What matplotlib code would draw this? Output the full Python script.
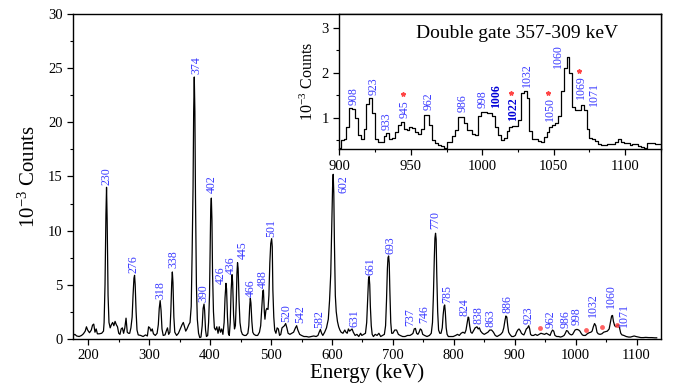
import matplotlib
matplotlib.use("Agg")
import matplotlib.pyplot as plt
from matplotlib.ticker import MultipleLocator

plt.rcParams['font.family'] = ['Liberation Serif', 'DejaVu Serif']
plt.rcParams['mathtext.fontset'] = 'custom'
plt.rcParams['mathtext.rm'] = 'Liberation Serif'
plt.rcParams['mathtext.it'] = 'Liberation Serif:italic'

# ---- full gamma-ray spectrum (keV, 10^-3 counts) ----
energy = [
    175, 178, 181, 185, 189, 192, 195, 197, 199, 202, 205, 207, 209, 211, 213, 215, 218, 222, 225,
    226, 227.5, 229, 230, 231, 232.5, 234,
    236, 238, 240, 242, 244, 246, 248, 250, 252, 254, 256, 258, 260, 262, 264, 266, 268, 270,
    272, 273.5, 275, 276, 277, 278.5, 280,
    282, 286, 290, 294, 297, 299, 301, 303, 305, 307, 310, 313,
    315, 316.5, 318, 319.5, 321,
    323, 326, 328, 330, 332, 334,
    335.5, 337, 338, 339, 340.5, 342,
    345, 348, 351, 354, 356, 358, 360, 362, 365, 367,
    369, 370.5, 372, 373, 374, 375, 376, 377.5, 379, 381, 383, 385,
    387, 388.5, 390, 391, 392.5, 394, 396,
    397.5, 399, 400, 401, 402, 403, 404, 405.5, 407,
    409, 411, 413, 415, 417, 419, 421,
    423, 424.5, 426, 427, 428.5, 430, 431.5,
    433, 434.5, 436, 437, 438.5, 440, 441.5,
    443, 444, 445, 446, 447.5, 449, 451, 453,
    456, 459, 462,
    463.5, 465, 466, 467, 468.5, 470, 472,
    475, 478, 481,
    483, 485, 486.5, 487.5, 489, 490, 491.5, 493, 495, 496.5,
    498, 499.5, 501, 502, 503, 504.5, 506,
    508, 510, 512, 514, 516, 518, 520, 522, 524, 526, 528, 531, 534, 537, 540, 542, 544, 547,
    550, 554, 558, 562, 566, 570, 574, 577, 579, 581, 583, 585, 588, 591, 594, 596,
    598, 599.5, 601, 602, 603, 604, 605.5, 607, 609, 611, 613, 615,
    618, 621, 623, 625, 627, 629, 631, 633, 635, 638, 641, 644, 647, 649,
    655, 657, 658.5, 660, 661, 662, 663, 664.5, 666,
    668, 671, 674, 677, 680, 683, 686,
    688, 689.5, 691, 692, 693, 694, 695, 696.5, 698,
    700, 703, 706, 709, 712, 716, 720, 724, 728, 731, 733,
    735, 737, 739, 741, 743, 745, 747, 749, 752, 756, 760, 763,
    765, 766.5, 768, 769, 770, 771, 772, 773.5, 775, 777, 779, 781,
    782.5, 784, 785, 786, 787.5, 789,
    791, 795, 799, 803, 806, 809, 812, 815, 818,
    820, 822, 823.5, 824.5, 826, 828, 830,
    832, 835, 838, 840, 842, 844, 847, 850, 853, 856, 859, 862, 865, 868, 871, 874, 877, 880,
    882, 884, 885.5, 887, 888.5, 890, 892,
    895, 898, 901, 903, 905, 907, 909, 911, 913, 915, 917, 919, 921, 923, 924.5, 926,
    928, 931, 934, 937, 940, 943, 946, 949, 952, 955, 958, 960, 962, 964, 966, 969, 972, 975,
    978, 981, 983, 985, 987, 989, 991, 993, 995, 997, 999, 1001, 1003, 1005, 1007, 1009, 1011,
    1013, 1016, 1019, 1022, 1025, 1027, 1029, 1031, 1033, 1035, 1037, 1040, 1043, 1046, 1049,
    1052, 1055, 1057, 1059, 1060.5, 1062, 1064, 1066, 1068, 1070, 1072, 1074, 1076, 1079,
    1083, 1087, 1090, 1093, 1096, 1099, 1103, 1107, 1111, 1115, 1120, 1125, 1130, 1133,
]
counts = [
    0.30, 0.40, 0.25, 0.20, 0.30, 0.45, 0.70, 1.10, 0.80, 0.55, 0.80, 1.25, 1.35, 0.60, 0.90, 0.45, 0.45, 0.50, 0.70,
    1.5, 5.0, 11.5, 14.0, 11.0, 4.0, 1.5,
    1.0, 1.3, 1.5, 1.2, 1.6, 1.3, 1.1, 0.5, 0.4, 0.9, 1.0, 0.5, 1.0, 1.9, 0.6, 0.5, 0.5, 1.0,
    2.0, 4.0, 5.6, 5.86, 5.0, 2.5, 0.8,
    0.35, 0.3, 0.2, 0.35, 0.25, 1.1, 1.0, 0.7, 0.9, 0.45, 0.3, 0.5,
    1.3, 2.8, 3.52, 2.6, 0.9,
    0.3, 0.35, 0.7, 1.0, 0.4, 0.6,
    2.5, 5.2, 6.17, 5.2, 2.0, 0.6,
    0.3, 0.5, 0.9, 1.3, 1.5, 1.1, 0.7, 0.9, 1.3, 1.5,
    3.0, 8.0, 14.0, 21.0, 24.2, 21.0, 13.0, 5.0, 1.8, 0.5, 0.1, 0.15,
    1.2, 2.8, 3.2, 2.6, 0.8, 0.2, 0.3,
    1.5, 4.0, 8.0, 12.0, 13.0, 11.0, 6.0, 2.5, 1.0,
    0.8, 1.1, 0.5, 1.1, 0.6, 0.9, 0.4,
    1.5, 3.8, 5.12, 4.6, 2.0, 0.5, 0.3,
    1.5, 4.5, 5.92, 5.2, 2.2, 0.9, 1.2,
    3.5, 6.0, 7.03, 6.5, 3.5, 1.5, 0.7, 0.4,
    0.3, 0.3, 0.5,
    1.2, 3.0, 3.73, 3.3, 1.6, 0.6, 0.4,
    0.3, 0.3, 0.6,
    1.2, 3.0, 4.4, 4.5, 2.5, 1.8, 2.6, 2.8, 2.7, 4.0,
    7.0, 8.8, 9.25, 8.5, 4.5, 2.0, 0.8,
    0.5, 1.0, 0.9, 0.3, 0.4, 1.0, 1.1, 1.2, 1.4, 1.0, 0.5, 0.4, 0.5, 0.6, 1.0, 1.2, 0.8, 0.4,
    0.3, 0.2, 0.2, 0.15, 0.2, 0.25, 0.2, 0.3, 0.6, 0.85, 0.5, 0.3, 0.6, 1.0, 1.8, 3.5,
    6.0, 10.0, 14.0, 15.2, 13.5, 9.0, 4.0, 2.5, 1.6, 1.1, 0.8, 0.6,
    0.5, 0.8, 0.6, 0.5, 0.9, 0.7, 0.8, 0.9, 0.6, 0.3, 0.4, 0.2, 0.5, 0.3,
    0.5, 1.5, 3.5, 5.5, 5.74, 5.0, 3.0, 1.2, 0.4,
    0.2, 0.4, 0.3, 0.5, 0.2, 0.3, 0.4,
    1.2, 3.5, 6.5, 7.5, 7.65, 7.0, 4.5, 1.5, 0.5,
    0.5, 0.8, 0.8, 0.4, 0.3, 0.2, 0.2, 0.3, 0.3, 0.4, 0.5,
    0.9, 0.95, 0.5, 0.4, 0.6, 0.9, 0.8, 0.4, 0.3, 0.2, 0.3, 0.5,
    1.5, 4.0, 7.5, 9.3, 9.75, 9.2, 6.0, 2.5, 0.8, 0.5, 0.5, 1.0,
    2.2, 3.0, 3.12, 2.5, 1.0, 0.4,
    0.2, 0.2, 0.2, 0.3, 0.4, 0.3, 0.5, 0.6, 0.5,
    0.8, 1.5, 2.0, 1.95, 1.2, 0.6, 0.5,
    0.7, 1.0, 1.1, 0.9, 1.0, 0.7, 0.5, 0.4, 0.5, 0.6, 0.8, 0.8, 0.6, 0.3, 0.2, 0.3, 0.4, 0.6,
    1.0, 1.7, 2.1, 2.0, 1.2, 0.6, 0.4,
    0.2, 0.2, 0.3, 0.6, 0.8, 0.9, 0.75, 0.5, 0.4, 0.35, 0.6, 0.9, 1.0, 1.2, 0.9, 0.4,
    0.3, 0.3, 0.4, 0.3, 0.4, 0.5, 0.45, 0.4, 0.5, 0.4, 0.3, 0.6, 0.8, 0.7, 0.3, 0.2, 0.2, 0.15,
    0.2, 0.3, 0.5, 0.75, 0.7, 0.5, 0.4, 0.35, 0.4, 0.6, 0.8, 0.85, 0.85, 0.8, 0.7, 0.5, 0.35,
    0.3, 0.3, 0.45, 0.55, 0.6, 0.7, 1.1, 1.4, 1.2, 0.6, 0.45, 0.4, 0.45, 0.6, 0.65,
    0.7, 0.9, 1.5, 2.1, 2.15, 1.6, 1.2, 1.1, 1.2, 1.3, 1.0, 0.5, 0.35, 0.3,
    0.2, 0.15, 0.15, 0.2, 0.25, 0.2, 0.15, 0.1, 0.1, 0.12, 0.1, 0.1, 0.08, 0.08,
]

# peak labels: text, x position (keV), bottom of text (10^-3 counts)
main_labels = ["230", "276", "318", "338", "374", "390", "402", "426", "436", "445",
               "466", "488", "501", "520", "542", "582", "602", "631", "661", "693",
               "737", "746", "770", "785", "824", "838", "863", "886", "923", "962",
               "986", "998", "1032", "1060", "1071"]
main_label_x = [230.2, 273.8, 318.6, 339.4, 377.0, 388.5, 402.3, 417.5, 433.9, 453.0,
                466.2, 487.0, 500.6, 525.2, 548.7, 579.8, 618.2, 637.2, 663.4, 695.7,
                729.0, 752.0, 770.0, 788.5, 817.5, 841.0, 860.2, 887.5, 923.0, 959.7,
                984.3, 1002.3, 1027.9, 1058.0, 1079.8]
main_label_y = [14.2, 6.1, 3.64, 6.5, 24.5, 3.42, 13.45, 5.06, 5.98, 7.34,
                3.83, 4.66, 9.38, 1.58, 1.42, 0.96, 13.5, 1.11, 5.89, 7.83,
                1.2, 1.48, 10.1, 3.27, 2.1, 1.36, 1.05, 2.41, 1.33, 0.96,
                1.02, 1.27, 2.04, 2.81, 1.11]
main_star_x = [941.6, 1017.0, 1044.0, 1067.2]
main_star_y = [1.02, 0.80, 1.04, 1.27]

# ---- double-gated spectrum, 2 keV bins ----
gate_energy = list(range(900, 1126, 2))
gate_counts = [
    0.32, 0.50, 0.52, 0.80, 1.21, 1.20, 1.00, 0.62, 0.54, 0.75,
    1.30, 1.43, 1.10, 0.54, 0.47, 0.47, 0.59, 0.66, 0.53, 0.56,
    0.68, 0.85, 0.91, 0.76, 0.72, 0.80, 0.77, 0.69, 0.64, 0.75,
    1.06, 1.06, 0.85, 0.50, 0.43, 0.39, 0.38, 0.34, 0.47, 0.47,
    0.60, 0.74, 1.02, 1.02, 0.88, 0.74, 0.72, 0.65, 0.62, 1.05,
    1.12, 1.13, 1.10, 1.10, 1.05, 0.80, 0.62, 0.50, 0.56, 0.70,
    0.80, 0.82, 0.82, 0.95, 1.55, 1.60, 1.45, 0.70, 0.53, 0.52,
    0.48, 0.47, 0.58, 0.68, 0.80, 0.84, 0.88, 1.05, 1.60, 2.10,
    2.34, 2.00, 1.24, 1.17, 1.17, 1.28, 1.17, 0.75, 0.55, 0.52,
    0.48, 0.42, 0.40, 0.39, 0.41, 0.41, 0.41, 0.46, 0.52, 0.47,
    0.43, 0.43, 0.39, 0.41, 0.41, 0.37, 0.36, 0.32, 0.44, 0.43,
    0.43, 0.42, 0.42,
]
gate_labels = ["908", "923", "933", "945", "962", "986", "998", "1006", "1022",
               "1032", "1050", "1060", "1069", "1071"]
gate_label_x = [909.8, 924.3, 933.1, 945.5, 962.3, 986.3, 999.9, 1009.4, 1021.3,
                1031.6, 1047.5, 1053.3, 1068.9, 1078.3]
gate_label_y = [1.28, 1.50, 0.73, 0.99, 1.17, 1.13, 1.21, 1.22, 0.93,
                1.69, 0.93, 2.10, 1.41, 1.26]
gate_bold = ["1006", "1022"]
gate_star_x = [944.3, 1019.9, 1046.0, 1067.5]
gate_star_y = [1.53, 1.56, 1.54, 2.04]

label_blue = "#3a3aff"
star_red = "#ff4545"

fig = plt.figure(figsize=(6.8, 3.85), dpi=100)
ax = fig.add_axes([0.1074, 0.1203, 0.8646, 0.8426])
ax.plot(energy, counts, color="black", lw=0.9)
ax.set_xlim(175, 1140)
ax.set_ylim(0, 30)
ax.xaxis.set_major_locator(MultipleLocator(100))
ax.xaxis.set_minor_locator(MultipleLocator(50))
ax.yaxis.set_major_locator(MultipleLocator(5))
ax.yaxis.set_minor_locator(MultipleLocator(2.5))
ax.tick_params(which="major", direction="out", length=4, width=0.9, labelsize=10.5)
ax.tick_params(which="minor", direction="out", length=2.5, width=0.8)
for s in ax.spines.values():
    s.set_linewidth(1.0)
ax.set_xlabel("Energy (keV)", fontsize=15, labelpad=1)
ax.set_ylabel("10$^{-3}$ Counts", fontsize=15, labelpad=6)

for t, x, y in zip(main_labels, main_label_x, main_label_y):
    ax.text(x, y, t, rotation=90, ha="center", va="bottom",
            color=label_blue, fontsize=8.6)
ax.plot(main_star_x, main_star_y, ls="none", marker="o", ms=3.5,
        color=star_red, mec="none", alpha=0.85)

# inset: double-gated spectrum
ins = fig.add_axes([0.499, 0.6122, 0.473, 0.3507])
ins.set_facecolor("white")
ins.plot(gate_energy, gate_counts, color="black", lw=0.9, drawstyle="steps-mid")
ins.set_xlim(900, 1125)
ins.set_ylim(0.3, 3.3)
ins.xaxis.set_major_locator(MultipleLocator(50))
ins.xaxis.set_minor_locator(MultipleLocator(25))
ins.yaxis.set_major_locator(MultipleLocator(1))
ins.yaxis.set_minor_locator(MultipleLocator(0.5))
ins.tick_params(which="major", direction="out", length=4, width=0.9, labelsize=10.5)
ins.tick_params(which="minor", direction="out", length=2.5, width=0.8)
for s in ins.spines.values():
    s.set_linewidth(1.0)
ins.set_ylabel("10$^{-3}$ Counts", fontsize=11.5, labelpad=3)
ins.text(0.553, 0.86, "Double gate 357-309 keV", transform=ins.transAxes,
         ha="center", va="center", fontsize=14)

for t, x, y in zip(gate_labels, gate_label_x, gate_label_y):
    bold = t in gate_bold
    ins.text(x, y, t, rotation=90, ha="center", va="bottom",
             color="#0000d8" if bold else label_blue,
             fontweight="bold" if bold else "normal", fontsize=8.6)
ins.plot(gate_star_x, gate_star_y, ls="none", marker="*", ms=3.2,
         color=star_red, mec=star_red)

fig.savefig("out.png", dpi=100)
